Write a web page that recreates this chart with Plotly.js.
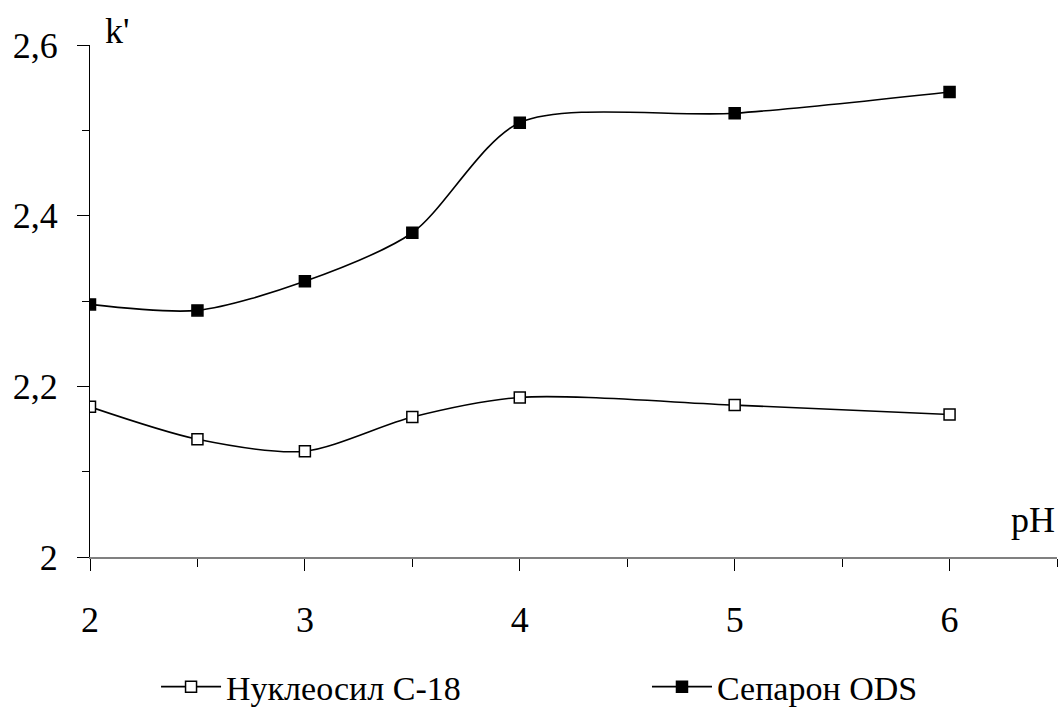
<!DOCTYPE html>
<html><head><meta charset="utf-8">
<script src="https://cdn.plot.ly/plotly-3.0.1.min.js"></script>
<style>body{margin:0;background:#fff}#chart{width:1061px;height:711px}</style>
</head><body><div id="chart"></div>
<script>
const pH = [2, 2.5, 3, 3.5, 4, 5, 6];
const nucleosil = [2.176, 2.138, 2.124, 2.164, 2.187, 2.178, 2.167];
const separon = [2.296, 2.289, 2.323, 2.380, 2.509, 2.520, 2.545];
const seriesNames = ['Нуклеосил С-18', 'Сепарон ODS'];
const xTicks = [2, 3, 4, 5, 6];
const xTickText = ['2', '3', '4', '5', '6'];
const yTicks = [2, 2.2, 2.4, 2.6];
const yTickText = ['2', '2,2', '2,4', '2,6'];

const FONT = 'Liberation Serif';
const traces = [
  {x: pH, y: nucleosil, name: seriesNames[0], mode: 'lines+markers', legend: 'legend',
   line: {color: '#000', width: 1.6, shape: 'spline', smoothing: 0.8},
   marker: {symbol: 'square', size: 11, color: '#fff', line: {color: '#000', width: 1.5}}},
  {x: pH, y: separon, name: seriesNames[1], mode: 'lines+markers', legend: 'legend2',
   line: {color: '#000', width: 1.6, shape: 'spline', smoothing: 0.8},
   marker: {symbol: 'square', size: 11, color: '#000', line: {color: '#000', width: 1.5}}}
];
const legBase = {orientation: 'h', yanchor: 'middle', xanchor: 'left', y: -0.254,
  font: {family: FONT, size: 34, color: '#000'}, itemwidth: 60, bgcolor: 'rgba(0,0,0,0)', borderwidth: 0};
const layout = {
  width: 1061, height: 711,
  margin: {l: 90, r: 4, t: 45, b: 154, autoexpand: false},
  paper_bgcolor: '#fff', plot_bgcolor: '#fff',
  font: {family: FONT, size: 34, color: '#000'},
  showlegend: true,
  legend: Object.assign({}, legBase, {x: 0.0683}),
  legend2: Object.assign({}, legBase, {x: 0.576}),
  xaxis: {range: [2, 6.5], showgrid: false, zeroline: false, showline: true, linecolor: '#808080', linewidth: 1.5,
          tickvals: xTicks, ticktext: xTickText, ticks: 'outside', ticklen: 12, tickcolor: '#000', tickwidth: 1,
          ticklabelstandoff: 18, tickfont: {family: FONT, size: 36},
          minor: {dtick: 0.5, tick0: 2, ticks: 'outside', ticklen: 8, tickcolor: '#000', tickwidth: 1, showgrid: false}},
  yaxis: {range: [2, 2.6], showgrid: false, zeroline: false, showline: true, linecolor: '#000', linewidth: 1,
          tickvals: yTicks, ticktext: yTickText, ticks: 'outside', ticklen: 12, tickcolor: '#000', tickwidth: 1,
          ticklabelstandoff: 12, tickfont: {family: FONT, size: 36},
          minor: {dtick: 0.1, tick0: 2, ticks: 'outside', ticklen: 7, tickcolor: '#000', tickwidth: 1, showgrid: false}},
  annotations: [
    {text: "k'", xref: 'paper', yref: 'paper', x: 0.013, y: 1.027, xanchor: 'left', yanchor: 'middle', showarrow: false,
     font: {family: FONT, size: 36, color: '#000'}},
    {text: 'pH', xref: 'paper', yref: 'paper', x: 1.0, y: 0.073, xanchor: 'right', yanchor: 'middle', showarrow: false,
     font: {family: FONT, size: 36, color: '#000'}}
  ]
};
Plotly.newPlot('chart', traces, layout, {displayModeBar: false, staticPlot: true});
</script></body></html>
